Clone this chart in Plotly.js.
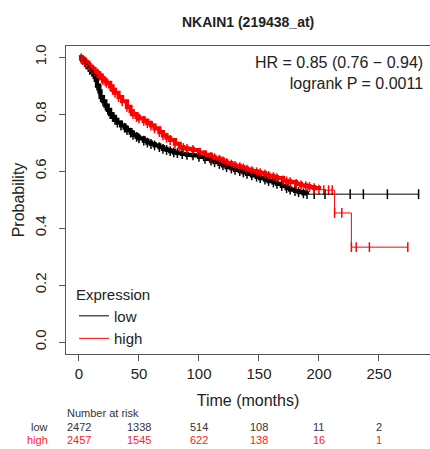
<!DOCTYPE html>
<html>
<head>
<meta charset="utf-8">
<script src="https://cdn.plot.ly/plotly-3.0.1.min.js"></script>
<style>html,body{margin:0;padding:0;background:#fff;}#chart{width:430px;height:449px;}</style>
</head>
<body>
<div id="chart"></div>
<script>
// Kaplan-Meier estimates (time in months, survival probability)
var lowTime = [0,2,3,5,6,8,9,11,12,14,15,17,18,20,22,24,26,28,30,32,35,38,40,43,45,48,50,54,57,60,63,67,70,73,76,79,82,86,90,95,100,105,110,113,117,120,123,127,130,134,137,140,144,148,151,155,158,162,165,169,173,176,180,183,187,190,196,205,226,237,257,283];
var lowProb = [1.0,0.995,0.99,0.982,0.975,0.965,0.955,0.948,0.94,0.92,0.90,0.88,0.86,0.845,0.83,0.815,0.80,0.79,0.78,0.77,0.76,0.752,0.744,0.735,0.727,0.72,0.715,0.707,0.70,0.695,0.69,0.684,0.678,0.674,0.67,0.666,0.663,0.66,0.657,0.655,0.65,0.643,0.637,0.631,0.625,0.62,0.614,0.609,0.604,0.6,0.595,0.59,0.585,0.58,0.575,0.57,0.565,0.56,0.555,0.548,0.54,0.535,0.53,0.526,0.522,0.519,0.519,0.519,0.519,0.519,0.519,0.519];
var highTime = [0,2,3,5,6,8,9,11,13,15,17,19,20,22,23,26,28,30,33,36,40,43,45,48,50,54,57,60,63,67,70,73,76,80,84,87,90,95,100,105,110,113,117,120,123,127,130,134,137,140,144,148,151,155,158,162,165,170,173,176,181,185,189,192,196,200,204,208,211,213,219,227,231,242,274];
var highProb = [1.0,0.995,0.99,0.985,0.98,0.972,0.965,0.958,0.95,0.943,0.935,0.926,0.92,0.915,0.91,0.897,0.885,0.875,0.86,0.845,0.825,0.81,0.80,0.79,0.785,0.776,0.768,0.76,0.75,0.737,0.725,0.717,0.709,0.696,0.684,0.681,0.678,0.674,0.665,0.657,0.65,0.645,0.64,0.634,0.628,0.623,0.618,0.614,0.61,0.605,0.60,0.596,0.593,0.588,0.583,0.579,0.575,0.567,0.564,0.561,0.555,0.55,0.547,0.544,0.54,0.535,0.533,0.533,0.533,0.453,0.453,0.333,0.333,0.333,0.333];
// time up to which censoring marks are so dense they merge into a thick band
var denseUntil = [190, 200];

var titleText = "<b>NKAIN1 (219438_at)</b>";
var statsText = "HR = 0.85 (0.76 \u2212 0.94)<br>logrank P = 0.0011";
var groupNames = ["low","high"];
var groupColors = ["#000000","#ff0000"];
var riskTimes = [0,50,100,150,200,250];
var riskLow = [2472,1338,514,108,11,2];
var riskHigh = [2457,1545,622,138,16,1];
var xTicks = [0,50,100,150,200,250];
var yTicks = [0,0.2,0.4,0.6,0.8,1.0];

var FONT = "Liberation Sans, Arial, sans-serif";
var series = [[lowTime,lowProb],[highTime,highProb]];
var traces = [];
// censor-band traces (thick) first, then thin lines and tick marks
series.forEach(function(s,i){
  var bx=[], by=[];
  s[0].forEach(function(t,j){ if(t<=denseUntil[i]){bx.push(t); by.push(s[1][j]);} });
  traces.push({x:bx, y:by, type:"scatter", mode:"lines", line:{shape:"hv", color:groupColors[i], width:4.2},
    showlegend:false, hoverinfo:"skip"});
});
series.forEach(function(s,i){
  traces.push({x:s[0].slice(1), y:s[1].slice(1), type:"scatter", mode:"markers",
    marker:{symbol:"line-ns", size:7, line:{color:groupColors[i], width:1.5}},
    showlegend:false, hoverinfo:"skip"});
});
series.forEach(function(s,i){
  traces.push({x:s[0], y:s[1], type:"scatter", mode:"lines", line:{shape:"hv", color:groupColors[i], width:1},
    name:groupNames[i], showlegend:true, hoverinfo:"skip"});
});

var annotations = [
  {xref:"paper", yref:"paper", x:0.986, y:0.912, xanchor:"right", yanchor:"middle", align:"right",
   text:statsText, showarrow:false, font:{family:FONT, size:16, color:"#222"}},
  {xref:"paper", yref:"paper", x:-0.003, y:-0.192, xanchor:"left", yanchor:"middle",
   text:"Number at risk", showarrow:false, font:{family:FONT, size:11, color:"#333"}},
  {xref:"paper", yref:"paper", x:-0.044, y:-0.237, xanchor:"right", yanchor:"middle",
   text:groupNames[0], showarrow:false, font:{family:FONT, size:11, color:"#333"}},
  {xref:"paper", yref:"paper", x:-0.044, y:-0.279, xanchor:"right", yanchor:"middle",
   text:groupNames[1], showarrow:false, font:{family:FONT, size:11, color:"#ff2020"}}
];
riskTimes.forEach(function(t,i){
  annotations.push({xref:"x", yref:"paper", x:t, y:-0.237, xanchor:"center", yanchor:"middle",
    text:String(riskLow[i]), showarrow:false, font:{family:FONT, size:11, color:"#333"}});
  annotations.push({xref:"x", yref:"paper", x:t, y:-0.279, xanchor:"center", yanchor:"middle",
    text:String(riskHigh[i]), showarrow:false, font:{family:FONT, size:11, color:"#ff2020"}});
});

var layout = {
  width:430, height:449,
  margin:{l:66, r:0, t:46, b:95},
  paper_bgcolor:"#fff", plot_bgcolor:"#fff",
  font:{family:FONT, color:"#222"},
  title:{text:titleText, x:0.577, xanchor:"center", y:0.951, yanchor:"middle", font:{family:FONT, size:14, color:"#222"}},
  xaxis:{range:[-10.8,292.5], tickvals:xTicks, ticktext:xTicks.map(String), ticks:"outside", ticklen:6, tickcolor:"#555",
    showline:true, mirror:true, linecolor:"#555", linewidth:1, showgrid:false, zeroline:false,
    tickfont:{family:FONT, size:15, color:"#222"},
    title:{text:"Time (months)", font:{family:FONT, size:16, color:"#222"}, standoff:13}},
  yaxis:{range:[-0.042,1.039], tickvals:yTicks, ticktext:yTicks.map(function(v){return v.toFixed(1);}), ticks:"outside", ticklen:6, tickcolor:"#555",
    tickangle:-90, showline:true, mirror:true, linecolor:"#555", linewidth:1, showgrid:false, zeroline:false,
    ticklabelstandoff:7,
    tickfont:{family:FONT, size:15, color:"#222"},
    title:{text:"Probability", font:{family:FONT, size:16, color:"#222"}, standoff:3}},
  legend:{x:0.022, y:0.24, xanchor:"left", yanchor:"top", bgcolor:"rgba(0,0,0,0)",
    title:{text:"Expression", font:{family:FONT, size:15, color:"#222"}},
    font:{family:FONT, size:15, color:"#222"}, tracegroupgap:0, itemwidth:30},
  annotations:annotations,
  showlegend:true
};
Plotly.newPlot("chart", traces, layout, {displayModeBar:false, staticPlot:true});
</script>
</body>
</html>
